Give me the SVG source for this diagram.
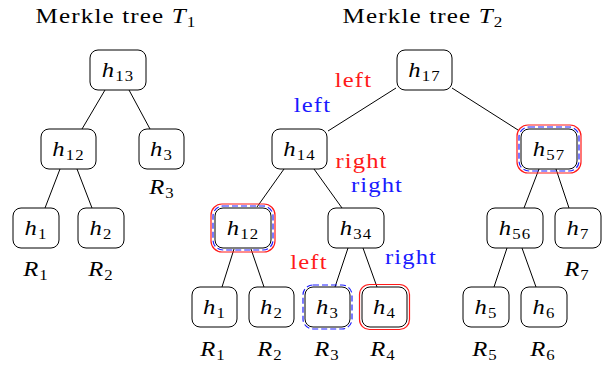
<svg xmlns="http://www.w3.org/2000/svg" width="608" height="369" viewBox="0 0 608 369">
<style>
text{font-family:"Liberation Serif","Times New Roman",serif;font-size:22px;fill:#000;letter-spacing:1px}
.i{font-style:italic}
.sub{font-size:15px}
.box{fill:#fff;stroke:#000;stroke-width:1}
.red{fill:none;stroke:#ff1a1a;stroke-width:1.2}
.blue{fill:none;stroke:#2020ff;stroke-width:1.2;stroke-dasharray:6 3}
.edge{stroke:#000;stroke-width:1;fill:none}
.lr{fill:#ff1a1a}
.lb{fill:#1a1aff}
</style>
<g id="titles">
<text transform="translate(116,23) scale(1.14,1)" text-anchor="middle">Merkle tree <tspan class="i">T</tspan><tspan class="sub" dy="4">1</tspan></text>
<text transform="translate(423,23) scale(1.14,1)" text-anchor="middle">Merkle tree <tspan class="i">T</tspan><tspan class="sub" dy="4">2</tspan></text>
</g>
<g id="connectors">
<line class="edge" x1="105" y1="90" x2="82" y2="129"/>
<line class="edge" x1="129" y1="90" x2="150" y2="129"/>
<line class="edge" x1="60" y1="169" x2="45" y2="208"/>
<line class="edge" x1="77" y1="169" x2="92" y2="208"/>
<line class="edge" x1="396" y1="88" x2="328" y2="131"/>
<line class="edge" x1="452" y1="88" x2="518" y2="130"/>
<line class="edge" x1="284" y1="169" x2="257" y2="207"/>
<line class="edge" x1="314" y1="169" x2="342" y2="208"/>
<line class="edge" x1="234" y1="249" x2="222" y2="287"/>
<line class="edge" x1="251" y1="249" x2="264" y2="287"/>
<line class="edge" x1="348" y1="248" x2="335" y2="287"/>
<line class="edge" x1="363" y1="248" x2="377" y2="287"/>
<line class="edge" x1="539" y1="169" x2="524" y2="208"/>
<line class="edge" x1="556" y1="169" x2="569" y2="208"/>
<line class="edge" x1="507" y1="248" x2="494" y2="287"/>
<line class="edge" x1="522" y1="248" x2="536" y2="287"/>
</g>
<g id="edge-labels">
<text class="lr" transform="translate(353.5,87) scale(1.12,1)" text-anchor="middle">left</text>
<text class="lb" transform="translate(312.5,112) scale(1.12,1)" text-anchor="middle">left</text>
<text class="lr" transform="translate(361.5,168) scale(1.12,1)" text-anchor="middle">right</text>
<text class="lb" transform="translate(377,192) scale(1.12,1)" text-anchor="middle">right</text>
<text class="lr" transform="translate(309,269) scale(1.12,1)" text-anchor="middle">left</text>
<text class="lb" transform="translate(411,264) scale(1.12,1)" text-anchor="middle">right</text>
</g>
<!-- Tree T1 -->
<g id="t1_h13">
<rect class="box" x="90" y="50" width="56" height="40" rx="8"/>
<text transform="translate(118,77) scale(1.12,1)" text-anchor="middle"><tspan class="i">h</tspan><tspan class="sub" dy="4">13</tspan></text>
</g>
<g id="t1_h12">
<rect class="box" x="41" y="129" width="55" height="40" rx="8"/>
<text transform="translate(68.5,156) scale(1.12,1)" text-anchor="middle"><tspan class="i">h</tspan><tspan class="sub" dy="4">12</tspan></text>
</g>
<g id="t1_h3">
<rect class="box" x="139" y="129" width="45" height="40" rx="8"/>
<text transform="translate(161.5,156) scale(1.12,1)" text-anchor="middle"><tspan class="i">h</tspan><tspan class="sub" dy="4">3</tspan></text>
<text transform="translate(162,194) scale(1.12,1)" text-anchor="middle"><tspan class="i">R</tspan><tspan class="sub" dy="4">3</tspan></text>
</g>
<g id="t1_h1">
<rect class="box" x="13" y="208" width="46" height="40" rx="8"/>
<text transform="translate(36,235) scale(1.12,1)" text-anchor="middle"><tspan class="i">h</tspan><tspan class="sub" dy="4">1</tspan></text>
<text transform="translate(36,276) scale(1.12,1)" text-anchor="middle"><tspan class="i">R</tspan><tspan class="sub" dy="4">1</tspan></text>
</g>
<g id="t1_h2">
<rect class="box" x="78" y="208" width="46" height="40" rx="8"/>
<text transform="translate(101,235) scale(1.12,1)" text-anchor="middle"><tspan class="i">h</tspan><tspan class="sub" dy="4">2</tspan></text>
<text transform="translate(101,276) scale(1.12,1)" text-anchor="middle"><tspan class="i">R</tspan><tspan class="sub" dy="4">2</tspan></text>
</g>
<!-- Tree T2 -->
<g id="t2_h17">
<rect class="box" x="397" y="50" width="55" height="40" rx="8"/>
<text transform="translate(424.5,77) scale(1.12,1)" text-anchor="middle"><tspan class="i">h</tspan><tspan class="sub" dy="4">17</tspan></text>
</g>
<g id="t2_h14">
<rect class="box" x="272" y="129" width="55" height="40" rx="8"/>
<text transform="translate(299.5,156) scale(1.12,1)" text-anchor="middle"><tspan class="i">h</tspan><tspan class="sub" dy="4">14</tspan></text>
</g>
<g id="t2_h57">
<rect class="red" x="517" y="125" width="64" height="48" rx="11"/>
<rect class="blue" x="519" y="127" width="60" height="44" rx="10"/>
<rect class="box" x="521" y="129" width="56" height="40" rx="8"/>
<text transform="translate(549,156) scale(1.12,1)" text-anchor="middle"><tspan class="i">h</tspan><tspan class="sub" dy="4">57</tspan></text>
</g>
<g id="t2_h12">
<rect class="red" x="211" y="204" width="64" height="48" rx="11"/>
<rect class="blue" x="213" y="206" width="60" height="44" rx="10"/>
<rect class="box" x="215" y="208" width="56" height="40" rx="8"/>
<text transform="translate(243,235) scale(1.12,1)" text-anchor="middle"><tspan class="i">h</tspan><tspan class="sub" dy="4">12</tspan></text>
</g>
<g id="t2_h34">
<rect class="box" x="328" y="208" width="56" height="40" rx="8"/>
<text transform="translate(356,235) scale(1.12,1)" text-anchor="middle"><tspan class="i">h</tspan><tspan class="sub" dy="4">34</tspan></text>
</g>
<g id="t2_h56">
<rect class="box" x="487" y="208" width="56" height="40" rx="8"/>
<text transform="translate(515,235) scale(1.12,1)" text-anchor="middle"><tspan class="i">h</tspan><tspan class="sub" dy="4">56</tspan></text>
</g>
<g id="t2_h7">
<rect class="box" x="555" y="208" width="46" height="40" rx="8"/>
<text transform="translate(578,235) scale(1.12,1)" text-anchor="middle"><tspan class="i">h</tspan><tspan class="sub" dy="4">7</tspan></text>
<text transform="translate(577,276) scale(1.12,1)" text-anchor="middle"><tspan class="i">R</tspan><tspan class="sub" dy="4">7</tspan></text>
</g>
<g id="t2_h1">
<rect class="box" x="192" y="287" width="45" height="40" rx="8"/>
<text transform="translate(214.5,314) scale(1.12,1)" text-anchor="middle"><tspan class="i">h</tspan><tspan class="sub" dy="4">1</tspan></text>
<text transform="translate(213,356) scale(1.12,1)" text-anchor="middle"><tspan class="i">R</tspan><tspan class="sub" dy="4">1</tspan></text>
</g>
<g id="t2_h2">
<rect class="box" x="249" y="287" width="45" height="40" rx="8"/>
<text transform="translate(271.5,314) scale(1.12,1)" text-anchor="middle"><tspan class="i">h</tspan><tspan class="sub" dy="4">2</tspan></text>
<text transform="translate(270,356) scale(1.12,1)" text-anchor="middle"><tspan class="i">R</tspan><tspan class="sub" dy="4">2</tspan></text>
</g>
<g id="t2_h3">
<rect class="blue" x="303" y="285" width="49" height="44" rx="10"/>
<rect class="box" x="305" y="287" width="45" height="40" rx="8"/>
<text transform="translate(327.5,314) scale(1.12,1)" text-anchor="middle"><tspan class="i">h</tspan><tspan class="sub" dy="4">3</tspan></text>
<text transform="translate(327,356) scale(1.12,1)" text-anchor="middle"><tspan class="i">R</tspan><tspan class="sub" dy="4">3</tspan></text>
</g>
<g id="t2_h4">
<rect class="red" x="359.5" y="284.5" width="50" height="45" rx="10"/>
<rect class="box" x="362" y="287" width="45" height="40" rx="8"/>
<text transform="translate(384.5,314) scale(1.12,1)" text-anchor="middle"><tspan class="i">h</tspan><tspan class="sub" dy="4">4</tspan></text>
<text transform="translate(383,356) scale(1.12,1)" text-anchor="middle"><tspan class="i">R</tspan><tspan class="sub" dy="4">4</tspan></text>
</g>
<g id="t2_h5">
<rect class="box" x="463" y="287" width="46" height="40" rx="8"/>
<text transform="translate(486,314) scale(1.12,1)" text-anchor="middle"><tspan class="i">h</tspan><tspan class="sub" dy="4">5</tspan></text>
<text transform="translate(485,356) scale(1.12,1)" text-anchor="middle"><tspan class="i">R</tspan><tspan class="sub" dy="4">5</tspan></text>
</g>
<g id="t2_h6">
<rect class="box" x="521" y="287" width="46" height="40" rx="8"/>
<text transform="translate(544,314) scale(1.12,1)" text-anchor="middle"><tspan class="i">h</tspan><tspan class="sub" dy="4">6</tspan></text>
<text transform="translate(543,356) scale(1.12,1)" text-anchor="middle"><tspan class="i">R</tspan><tspan class="sub" dy="4">6</tspan></text>
</g>
</svg>
